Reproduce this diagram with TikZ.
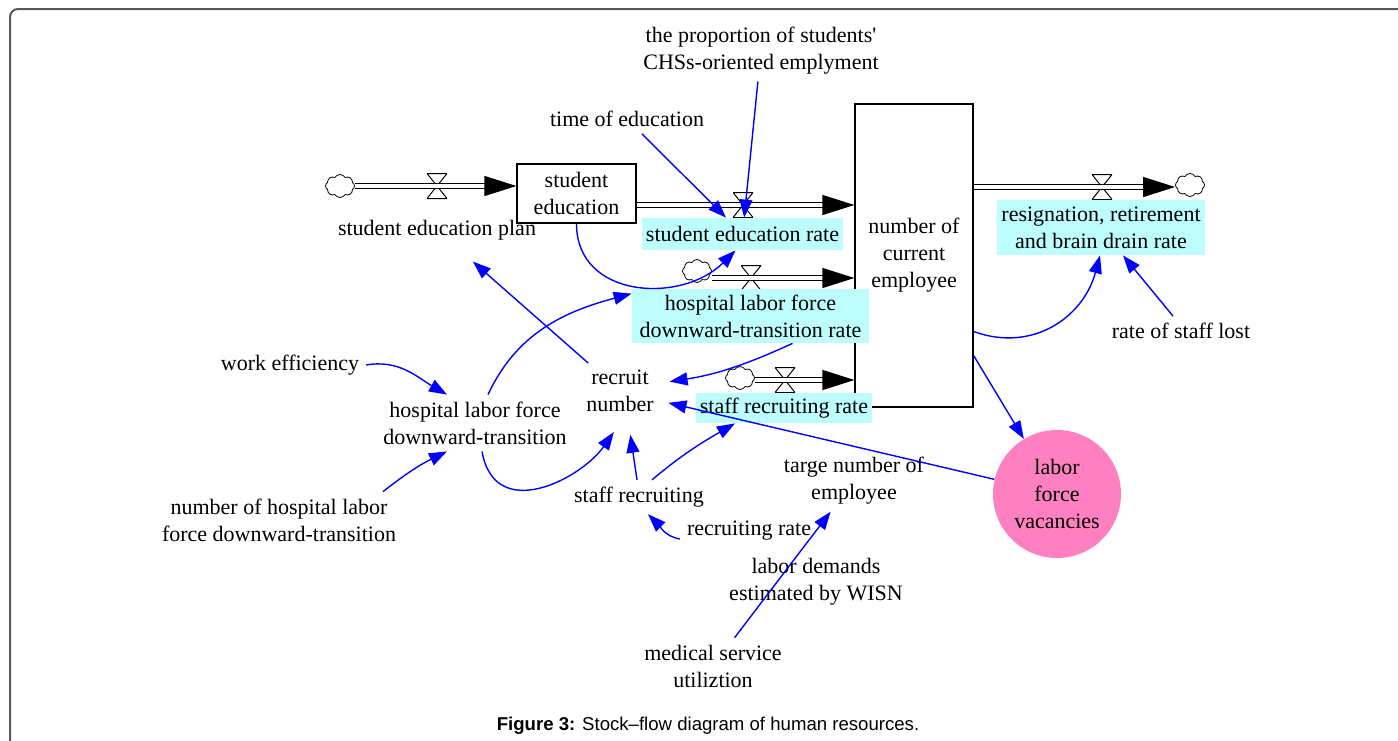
\documentclass[tikz,border=0pt]{standalone}
\usepackage{fontspec}
\setmainfont{Liberation Serif}
\newfontfamily\captionfont{Liberation Sans}
\usetikzlibrary{arrows.meta,shapes.symbols,positioning}
\definecolor{linkblue}{RGB}{0,0,255}
\definecolor{ratecyan}{RGB}{190,253,253}
\definecolor{vacpink}{RGB}{255,128,192}
\definecolor{framegray}{RGB}{90,90,90}

\begin{document}
\begin{tikzpicture}[
	x=0.5pt, y=0.5pt,
	font=\fontsize{11}{13.5}\selectfont,
	every node/.style={align=center},
	stock/.style={draw,rectangle,line width=0.6pt,inner sep=0pt},
	rate/.style={rectangle,fill=ratecyan,inner xsep=2pt,inner ysep=2pt},
	aux/.style={rectangle},
	sink/.style={cloud,cloud puffs=8,cloud puff arc=120,cloud ignores aspect,draw,line width=0.4pt,minimum width=14.5pt,minimum height=11.5pt,inner sep=0pt},
	valve/.style={rectangle,inner sep=0pt,minimum width=10pt,minimum height=14pt,
		path picture={\draw[line width=0.5pt] ([yshift=-0.75pt]path picture bounding box.north west) -- ([yshift=0.75pt]path picture bounding box.south east) -- ([yshift=0.75pt]path picture bounding box.south west) -- ([yshift=-0.75pt]path picture bounding box.north east) -- cycle;}},
	vacancy/.style={circle,fill=vacpink,minimum size=64pt,inner sep=0pt},
	flow/.style={line width=0.6pt,double,double distance=2pt,-{Triangle[length=16pt,width=10pt]}},
	link/.style={draw=linkblue,line width=0.7pt,-{Triangle[length=9pt,width=6.5pt]}}
	]
	
	\useasboundingbox (0,0) rectangle (1398,-740);
	\draw[framegray,line width=1pt,rounded corners=4pt] (10,-9) rectangle (1430,-770);
	
	% stocks
	\node[stock,minimum width=59pt,minimum height=151.5pt] (emp) at (914,-255.5) {number of\\current\\employee};
	\node[stock,minimum width=59.5pt,minimum height=29.5pt] (edu) at (576.5,-193.5) {student\\education};
	
	% clouds and valves
	\node[sink] (c1) at (340,-186) {};
	\node[sink] (c2) at (697,-271) {};
	\node[sink] (c3) at (740,-378) {};
	\node[sink] (c4) at (1190,-185) {};
	\node[valve] (v1) at (437,-186) {};
	\node[valve] (v2) at (743,-205) {};
	\node[valve] (v3) at (751,-278) {};
	\node[valve] (v4) at (785,-380) {};
	\node[valve] (v5) at (1102,-187) {};
	
	% rates
	\node[rate,minimum width=99.5pt,minimum height=16pt] (serate) at (742.5,-234) {student education rate};
	\node[rate,minimum width=118.5pt,minimum height=27pt] (hrate) at (750.5,-316) {hospital labor force\\downward-transition rate};
	\node[rate,minimum width=86pt,minimum height=15pt] (srate) at (784,-408) {staff recruiting rate};
	\node[rate,minimum width=104pt,minimum height=27.5pt] (resig) at (1101,-227.5) {resignation, retirement\\and brain drain rate};
	
	% auxiliaries
	\node[aux] (plan) at (437,-230) {student education plan};
	\node[aux] (time) at (627,-119) {time of education};
	\node[aux] (prop) at (761,-51) {the proportion of students\textquotesingle\\CHSs-oriented emplyment};
	\node[aux] (lost) at (1181,-331) {rate of staff lost};
	\node[aux] (work) at (290,-365) {work efficiency};
	\node[aux] (hdt) at (475,-423) {hospital labor force\\downward-transition};
	\node[aux] (nhl) at (279,-520) {number of hospital labor\\force downward-transition};
	\node[aux] (recruit) at (620,-391) {recruit\\number};
	\node[aux] (staff) at (639,-497) {staff recruiting};
	\node[aux] (rrate) at (749,-531) {recruiting rate};
	\node[aux] (target) at (854,-481) {targe number of\\employee};
	\node[aux] (wisn) at (816,-582) {labor demands\\estimated by WISN};
	\node[aux] (msu) at (713,-666) {medical service\\utiliztion};
	\node[vacancy] (lfv) at (1057,-494) {labor\\force\\vacancies};
	
	\node[font=\captionfont\fontsize{9.3}{11}\selectfont] (cap) at (708,-726) {\textbf{Figure 3:} Stock–flow diagram of human resources.};
	
	% flows
	\draw[flow] (c1) -- (edu.west |- c1);
	\draw[flow] (edu.east |- v2) -- (emp.west |- v2);
	\draw[flow] (c2.east |- v3) -- (emp.west |- v3);
	\draw[flow] (c3.east |- v4) -- (emp.west |- v4);
	\draw[flow] (emp.east |- v5) -- (c4.west |- v5);
	
	% links
	\draw[link] (time) -- (serate);
	\draw[link] (prop) -- (serate);
	\draw[link] (edu.south) to[out=-90,in=225,looseness=1.2] ([xshift=-3.5pt]serate.south);
	\draw[link,shorten >=11pt] (recruit) -- (plan);
	\draw[link] ([xshift=6.5pt]hdt.north) to[out=65,in=195] ([yshift=-2.5pt]hrate.north west);
	\draw[link] (work.east) to[out=10,in=150] ([xshift=-14pt]hdt.north);
	\draw[link] ([xshift=-10pt]nhl.north east) to[bend left=6] ([xshift=-14pt]hdt.south);
	\draw[link,shorten >=8pt] ([xshift=3.5pt]hdt.south) to[out=-80,in=-125,looseness=1.3] ([xshift=1.5pt]recruit.south);
	\draw[link,shorten >=8pt] ([xshift=-1pt]staff.north) -- ([xshift=4pt]recruit.south);
	\draw[link] ([xshift=6.5pt]staff.north) to[out=40,in=210] ([xshift=-24.5pt]srate.south);
	\draw[link] ([yshift=-4pt]rrate.west) to[out=170,in=-45] ([xshift=4.5pt]staff.south);
	\draw[link,shorten >=4.5pt] ([xshift=21pt]hrate.south) to[bend left=8] ([yshift=4pt]recruit.east);
	\draw[link,shorten >=4pt] (lfv) -- ([yshift=-5pt]recruit.east);
	\draw[link] (msu) -- (target);
	\draw[link] ([yshift=-38pt]emp.east) to[out=-20,in=-105,looseness=1.1] ([xshift=-0.5pt]resig.south);
	\draw[link] ([xshift=-4pt]lost.north) -- ([xshift=11pt]resig.south);
	\draw[link] ([yshift=-50pt]emp.east) -- (lfv);
	
\end{tikzpicture}
\end{document}
